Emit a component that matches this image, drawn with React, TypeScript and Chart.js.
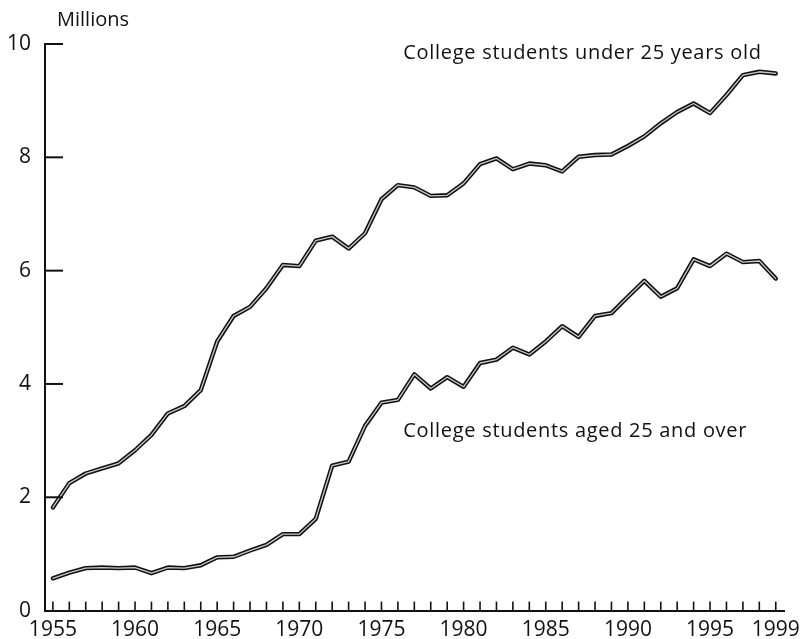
import React, { useEffect, useRef } from "react";
import { Chart, registerables } from "chart.js";

Chart.register(...registerables);

const years: number[] = [
  1955, 1956, 1957, 1958, 1959, 1960, 1961, 1962, 1963, 1964,
  1965, 1966, 1967, 1968, 1969, 1970, 1971, 1972, 1973, 1974,
  1975, 1976, 1977, 1978, 1979, 1980, 1981, 1982, 1983, 1984,
  1985, 1986, 1987, 1988, 1989, 1990, 1991, 1992, 1993, 1994,
  1995, 1996, 1997, 1998, 1999,
];

const under25: number[] = [
  1.82, 2.25, 2.42, 2.51, 2.6, 2.83, 3.1, 3.48, 3.61, 3.89,
  4.75, 5.2, 5.36, 5.69, 6.1, 6.08, 6.53, 6.6, 6.39, 6.66,
  7.26, 7.51, 7.47, 7.32, 7.33, 7.54, 7.88, 7.98, 7.79, 7.89,
  7.86, 7.75, 8.01, 8.04, 8.05, 8.2, 8.37, 8.6, 8.8, 8.95,
  8.78, 9.1, 9.45, 9.51, 9.48,
];

const over25: number[] = [
  0.57, 0.67, 0.75, 0.76, 0.75, 0.76, 0.66, 0.76, 0.75, 0.8,
  0.94, 0.95, 1.06, 1.16, 1.35, 1.35, 1.62, 2.56, 2.63, 3.26,
  3.67, 3.72, 4.17, 3.92, 4.12, 3.95, 4.37, 4.43, 4.64, 4.52,
  4.75, 5.02, 4.83, 5.2, 5.25, 5.54, 5.82, 5.54, 5.69, 6.2,
  6.08, 6.3, 6.15, 6.17, 5.86,
];

const xLabelYears: number[] = [1955, 1960, 1965, 1970, 1975, 1980, 1985, 1990, 1995, 1999];
const yTickValues: number[] = [0, 2, 4, 6, 8, 10];

const unitLabel = "Millions";
const seriesLabels: string[] = [
  "College students under 25 years old",
  "College students aged 25 and over",
];
// anchor of each series label, in data units (year, millions) – text baseline-left
const seriesLabelAnchors: { x: number; y: number }[] = [
  { x: 1976.33, y: 9.73 },
  { x: 1976.33, y: 3.06 },
];

const FONT = "'Open Sans', 'DejaVu Sans', sans-serif";

const toPoints = (vals: number[]) => years.map((yr, i) => ({ x: yr, y: vals[i] }));

const decorPlugin = {
  id: "decor",
  afterDraw(chart: any) {
    const { ctx, chartArea, scales } = chart;
    const xs = scales.x;
    const ys = scales.y;
    ctx.save();
    ctx.strokeStyle = "#111";
    // inward x ticks (every year)
    ctx.lineWidth = 1.6;
    years.forEach((yr) => {
      const px = xs.getPixelForValue(yr);
      ctx.beginPath();
      ctx.moveTo(px, chartArea.bottom);
      ctx.lineTo(px, chartArea.bottom - 9);
      ctx.stroke();
    });
    // inward y ticks
    ctx.lineWidth = 2;
    yTickValues.forEach((v) => {
      if (v === 0) return;
      const py = ys.getPixelForValue(v);
      ctx.beginPath();
      ctx.moveTo(chartArea.left, py);
      ctx.lineTo(chartArea.left + 18, py);
      ctx.stroke();
    });
    // texts
    ctx.fillStyle = "#111";
    ctx.font = `20px ${FONT}`;
    ctx.textAlign = "left";
    ctx.textBaseline = "middle";
    ctx.fillText(unitLabel, chartArea.left + 12, 20);
    ctx.textBaseline = "alphabetic";
    try {
      (ctx as any).letterSpacing = "0.7px";
    } catch (e) {}
    seriesLabels.forEach((t, i) => {
      const a = seriesLabelAnchors[i];
      ctx.fillText(t, xs.getPixelForValue(a.x), ys.getPixelForValue(a.y));
    });
    ctx.restore();
  },
};

export default function App() {
  const ref = useRef<HTMLCanvasElement | null>(null);

  useEffect(() => {
    document.body.style.margin = "0";
    const canvas = ref.current;
    if (!canvas) return;
    const outer = { borderColor: "#111", borderWidth: 4.4, order: 2 };
    const inner = { borderColor: "#c9c9c9", borderWidth: 1.3, order: 1 };
    const chart = new Chart(canvas, {
      type: "line",
      data: {
        datasets: [
          { label: seriesLabels[0], data: toPoints(under25), ...outer },
          { label: seriesLabels[0] + " core", data: toPoints(under25), ...inner },
          { label: seriesLabels[1], data: toPoints(over25), ...outer },
          { label: seriesLabels[1] + " core", data: toPoints(over25), ...inner },
        ].map((d) => ({
          ...d,
          pointRadius: 0,
          tension: 0,
          fill: false,
          borderJoinStyle: "round" as const,
          borderCapStyle: "round" as const,
        })),
      },
      options: {
        responsive: false,
        animation: false,
        layout: { padding: { top: 44, right: 19, left: 0, bottom: 0 } },
        plugins: { legend: { display: false }, tooltip: { enabled: false } },
        scales: {
          x: {
            type: "linear",
            min: 1954.52,
            max: 1999.55,
            grid: { display: false, drawTicks: false },
            border: { display: true, color: "#111", width: 2 },
            afterBuildTicks: (scale: any) => {
              scale.ticks = xLabelYears.map((v) => ({ value: v }));
            },
            afterFit: (scale: any) => {
              scale.height = 28.4;
            },
            ticks: {
              autoSkip: false,
              maxRotation: 0,
              padding: 7,
              color: "#111",
              font: { family: FONT, size: 21 },
              callback: (v: any) => String(v),
            },
          },
          y: {
            type: "linear",
            min: 0,
            max: 10,
            grid: { display: false, drawTicks: false },
            border: { display: true, color: "#111", width: 2 },
            afterBuildTicks: (scale: any) => {
              scale.ticks = yTickValues.map((v) => ({ value: v }));
            },
            afterFit: (scale: any) => {
              scale.width = 45;
            },
            ticks: {
              padding: 14,
              color: "#111",
              font: { family: FONT, size: 21 },
              callback: (v: any) => String(v),
            },
          },
        },
      },
      plugins: [decorPlugin],
    });
    return () => chart.destroy();
  }, []);

  return (
    <div style={{ width: 807, height: 639, background: "#fff" }}>
      <canvas ref={ref} width={807} height={639} style={{ width: 807, height: 639, display: "block" }} />
    </div>
  );
}
